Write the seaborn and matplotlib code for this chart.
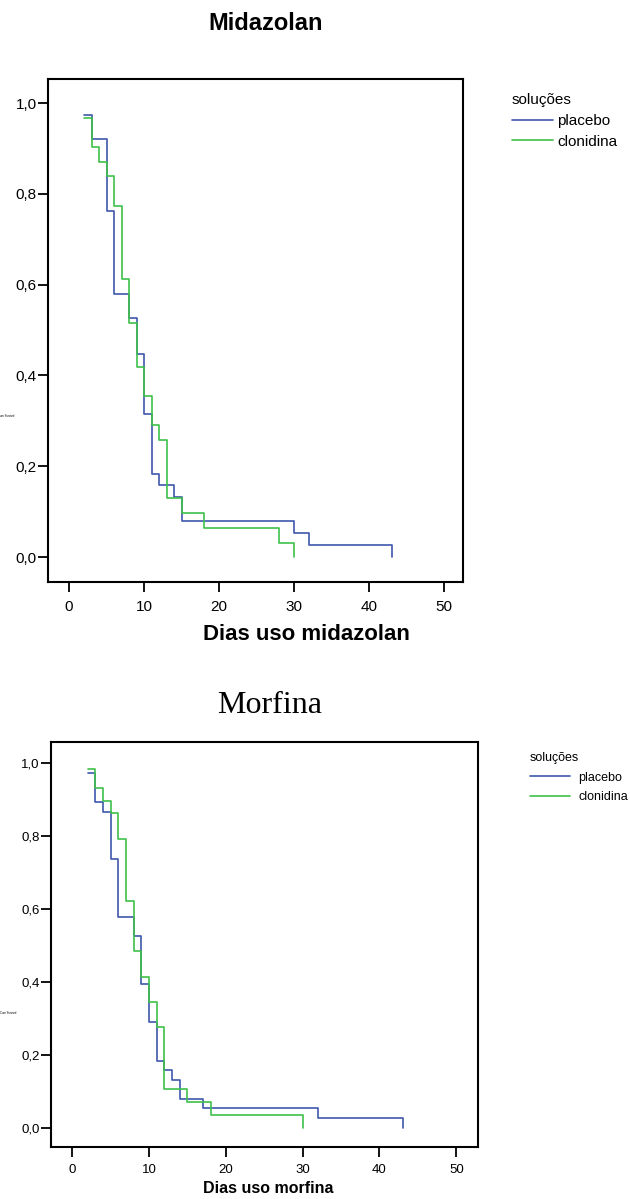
import numpy as np
import pandas as pd
import seaborn as sns
import matplotlib.pyplot as plt

# Kaplan-Meier steps (time, survival after the drop)
grupos = ['placebo', 'clonidina']
cores = {'placebo': '#3f58ad', 'clonidina': '#3ec14a'}

mid_dias_placebo = [2, 3, 5, 6, 8, 9, 10, 11, 12, 14, 15, 30, 32, 43]
mid_surv_placebo = [0.974, 0.921, 0.763, 0.579, 0.526, 0.447, 0.316, 0.184,
                    0.158, 0.132, 0.079, 0.053, 0.026, 0.0]
mid_dias_clonidina = [2, 3, 4, 5, 6, 7, 8, 9, 10, 11, 12, 13, 15, 18, 28, 30]
mid_surv_clonidina = [0.968, 0.903, 0.871, 0.839, 0.774, 0.613, 0.516, 0.419,
                      0.355, 0.290, 0.258, 0.129, 0.097, 0.065, 0.032, 0.0]

mor_dias_placebo = [2, 3, 4, 5, 6, 8, 9, 10, 11, 12, 13, 14, 17, 32, 43]
mor_surv_placebo = [0.974, 0.895, 0.868, 0.737, 0.579, 0.526, 0.395, 0.289,
                    0.184, 0.158, 0.132, 0.079, 0.053, 0.026, 0.0]
mor_dias_clonidina = [2, 3, 4, 5, 6, 7, 8, 9, 10, 11, 12, 15, 18, 30]
mor_surv_clonidina = [0.985, 0.933, 0.898, 0.865, 0.794, 0.622, 0.485, 0.414,
                      0.346, 0.277, 0.105, 0.070, 0.036, 0.0]

xticks = [0, 10, 20, 30, 40, 50]
yticks = [0.0, 0.2, 0.4, 0.6, 0.8, 1.0]
ytick_labels = ['0,0', '0,2', '0,4', '0,6', '0,8', '1,0']


def make_df(dp, sp, dc, sc):
    a = pd.DataFrame({'dias': dp, 'sobrevida': sp, 'soluções': 'placebo'})
    b = pd.DataFrame({'dias': dc, 'sobrevida': sc, 'soluções': 'clonidina'})
    return pd.concat([a, b], ignore_index=True)


sns.set_theme(style='ticks')
plt.rcParams['font.family'] = ['Liberation Sans', 'DejaVu Sans']
plt.rcParams['text.color'] = 'black'
plt.rcParams['axes.labelcolor'] = 'black'

W, H = 630, 1199
fig = plt.figure(figsize=(W / 100, H / 100), dpi=100)


def draw_km(rect, df, xlim, ylim, tick_fs, xpad, leg_anchor, leg_fs, handlelen, textpad, labsp):
    ax = fig.add_axes(rect)
    sns.lineplot(data=df, x='dias', y='sobrevida', hue='soluções', hue_order=grupos,
                 palette=cores, estimator=None, drawstyle='steps-post',
                 linewidth=1.2, ax=ax)
    ax.set_xlim(*xlim)
    ax.set_ylim(*ylim)
    ax.set_xticks(xticks)
    ax.set_xticklabels([str(t) for t in xticks])
    ax.set_yticks(yticks)
    ax.set_yticklabels(ytick_labels)
    ax.set_xlabel('')
    ax.set_ylabel('')
    for sp in ax.spines.values():
        sp.set_visible(True)
        sp.set_linewidth(1.5)
        sp.set_color('black')
    ax.tick_params(axis='both', direction='out', length=7, width=1.3,
                   color='black', labelsize=tick_fs, labelcolor='black')
    ax.tick_params(axis='y', pad=1)
    ax.tick_params(axis='x', pad=xpad)
    sns.move_legend(ax, 'upper left', bbox_to_anchor=leg_anchor, title='soluções',
                    frameon=False, fontsize=leg_fs, title_fontsize=leg_fs,
                    alignment='left', borderpad=0, borderaxespad=0,
                    handlelength=handlelen, handletextpad=textpad,
                    labelspacing=labsp)
    leg = ax.get_legend()
    leg.get_title().set_color('black')
    for t in leg.get_texts():
        t.set_color('black')
    return ax


# Midazolan
ax1 = draw_km([48 / W, 1 - 582 / H, 415 / W, 503 / H],
              make_df(mid_dias_placebo, mid_surv_placebo, mid_dias_clonidina, mid_surv_clonidina),
              (-2.8, 52.5), (-0.055, 1.053), 11, 6, (1.117, 0.972), 11, 2.7, 0.3, 0.45)
fig.text(266 / W, 1 - 30 / H, 'Midazolan', ha='center', va='baseline',
         fontsize=17, fontweight='bold')
fig.text(306 / W, 1 - 640 / H, 'Dias uso midazolan', ha='center', va='baseline',
         fontsize=16, fontweight='bold')
ax1.text(-0.08, 0.33, 'Cum Survival', transform=ax1.transAxes, fontsize=2,
         ha='right', va='center')

# Morfina
ax2 = draw_km([50.7 / W, 1 - 1147 / H, 426.8 / W, 405 / H],
              make_df(mor_dias_placebo, mor_surv_placebo, mor_dias_clonidina, mor_surv_clonidina),
              (-2.81, 52.76), (-0.053, 1.059), 9.5, 5, (1.123, 0.975), 9, 3.2, 0.65, 0.6)
fig.text(270 / W, 1 - 713 / H, 'Morfina', ha='center', va='baseline',
         fontsize=23, family=['Liberation Serif', 'DejaVu Serif'])
fig.text(268 / W, 1 - 1193 / H, 'Dias uso morfina', ha='center', va='baseline',
         fontsize=11.5, fontweight='bold')
ax2.text(-0.08, 0.33, 'Cum Survival', transform=ax2.transAxes, fontsize=2,
         ha='right', va='center')

fig.savefig('out.png', dpi=100)
